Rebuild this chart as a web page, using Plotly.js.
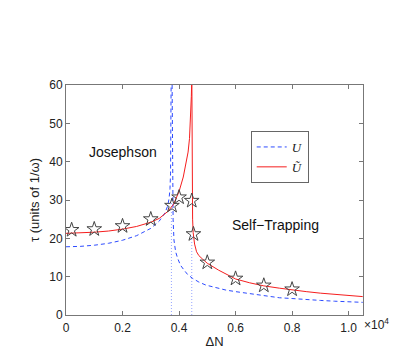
<!DOCTYPE html>
<html>
<head>
<meta charset="utf-8">
<script src="https://cdn.plot.ly/plotly-3.0.1.min.js"></script>
<style>
  html, body { margin:0; padding:0; background:#fff; }
  #chart { width:395px; height:349px; }
</style>
</head>
<body>
<div id="chart"></div>
<script>
// x in units of 10^4 (Delta N), y = tau in units of 1/omega

// U (dashed blue), two branches around the divergence
const uLeftX  = [0, 0.05, 0.1, 0.15, 0.2, 0.25, 0.3, 0.33, 0.35, 0.36, 0.365, 0.368, 0.37, 0.371, 0.372];
const uLeftY  = [17.8, 17.9, 18.2, 18.7, 19.5, 20.7, 22.6, 24.5, 26.6, 28.5, 30.5, 33, 37, 42, 60];
const uRightX = [0.3755, 0.376, 0.377, 0.379, 0.382, 0.388, 0.395, 0.405, 0.418, 0.43, 0.447, 0.47, 0.495, 0.53, 0.566, 0.6, 0.637, 0.68, 0.72, 0.755, 0.8, 0.85, 0.9, 0.95, 1.0, 1.05];
const uRightY = [60, 45, 33, 25, 19.6, 16.5, 14.8, 13, 11.7, 10.6, 9.6, 8.6, 7.8, 7.1, 6.5, 6.1, 5.7, 5.2, 4.8, 4.5, 4.3, 4.0, 3.8, 3.6, 3.45, 3.3];

// U tilde (solid red)
const utLeftX  = [0, 0.05, 0.1, 0.15, 0.2, 0.25, 0.3, 0.33, 0.36, 0.38, 0.4, 0.415, 0.425, 0.432, 0.437, 0.44, 0.442, 0.4435, 0.4445];
const utLeftY  = [21.3, 21.4, 21.6, 21.9, 22.4, 23.1, 24.2, 25.2, 27.0, 28.8, 32.2, 36, 39.5, 42.5, 46, 50, 53.5, 57, 60];
const utRightX = [0.4455, 0.446, 0.447, 0.448, 0.45, 0.455, 0.462, 0.47, 0.483, 0.5, 0.54, 0.6, 0.65, 0.7, 0.755, 0.8, 0.85, 0.9, 0.95, 1.0, 1.05];
const utRightY = [60, 40, 30, 25, 21.5, 18.5, 16.5, 15.5, 14.6, 13.5, 11.7, 9.4, 8.4, 7.6, 7.0, 6.5, 6.1, 5.7, 5.4, 5.1, 4.8];

// numerical results (stars)
const simX = [0.02, 0.1, 0.2, 0.3, 0.375, 0.4, 0.445, 0.451, 0.5, 0.6, 0.7, 0.8];
const simY = [22.2, 22.4, 23.2, 25.0, 28.5, 30.7, 29.8, 21.1, 13.7, 9.5, 7.7, 6.7];

// critical values (dotted markers)
const critX = [0.373, 0.445];
const critTop = [30, 21];

const xTicks = [0, 0.2, 0.4, 0.6, 0.8, 1.0];
const xTickText = ['0', '0.2', '0.4', '0.6', '0.8', '1.0'];
const yTicks = [0, 10, 20, 30, 40, 50, 60];

const blue = 'rgb(45,75,255)';
const red = 'rgb(245,30,30)';

const traces = [];
critX.forEach((x, i) => {
  traces.push({x:[x, x], y:[0, critTop[i]], mode:'lines', showlegend:false, hoverinfo:'skip',
    line:{color:'rgb(150,165,255)', width:1, dash:'1px,2px'}});
});
traces.push({x:uLeftX, y:uLeftY, mode:'lines', name:'<i>U</i>', legendgroup:'u',
  line:{color:blue, width:1, dash:'4px,3px'}});
traces.push({x:uRightX, y:uRightY, mode:'lines', showlegend:false, legendgroup:'u',
  line:{color:blue, width:1, dash:'4px,3px'}});
traces.push({x:utLeftX, y:utLeftY, mode:'lines', name:'<i>Ũ</i>', legendgroup:'ut',
  line:{color:red, width:1}});
traces.push({x:utRightX, y:utRightY, mode:'lines', showlegend:false, legendgroup:'ut',
  line:{color:red, width:1}});
traces.push({x:simX, y:simY, mode:'markers', showlegend:false,
  marker:{symbol:'star-open', size:11, color:'#444', line:{width:1, color:'#444'}}});

const axisCommon = {
  showline:true, mirror:'ticks', linecolor:'#777', linewidth:1,
  ticks:'inside', ticklen:4, tickcolor:'#777', showgrid:false, zeroline:false,
  tickfont:{family:'Liberation Sans, Arial, sans-serif', size:12, color:'#222'}
};

const layout = {
  width:395, height:349,
  margin:{l:66, r:32, t:85, b:34},
  paper_bgcolor:'#fff', plot_bgcolor:'#fff',
  font:{family:'Liberation Sans, Arial, sans-serif', size:12, color:'#222'},
  xaxis:Object.assign({}, axisCommon, {
    range:[0, 1.051], tickvals:xTicks, ticktext:xTickText, ticklabelstandoff:2,
    title:{text:'ΔN', standoff:2, font:{size:13}}
  }),
  yaxis:Object.assign({}, axisCommon, {
    range:[0, 60], tickvals:yTicks,
    title:{text:'τ (units of 1/ω)', standoff:6, font:{size:13}}
  }),
  legend:{
    x:0.622, y:0.8, xanchor:'left', yanchor:'top',
    bgcolor:'#fff', bordercolor:'#666', borderwidth:1,
    font:{family:'Liberation Serif, Times New Roman, serif', size:13, color:'#222'},
    itemwidth:30, tracegroupgap:0
  },
  annotations:[
    {x:0.2, y:42.5, xref:'x', yref:'y', text:'Josephson', showarrow:false,
      font:{size:14, color:'#111'}},
    {x:0.74, y:23.5, xref:'x', yref:'y', text:'Self\u2212Trapping', showarrow:false,
      font:{size:14, color:'#111'}},
    {x:1.0, y:0, xref:'paper', yref:'paper', xanchor:'left', yanchor:'top', yshift:1, xshift:-1,
      text:'×10<sup>4</sup>', showarrow:false, font:{size:12, color:'#222'}}
  ]
};

Plotly.newPlot('chart', traces, layout, {displayModeBar:false, staticPlot:true});
</script>
</body>
</html>
